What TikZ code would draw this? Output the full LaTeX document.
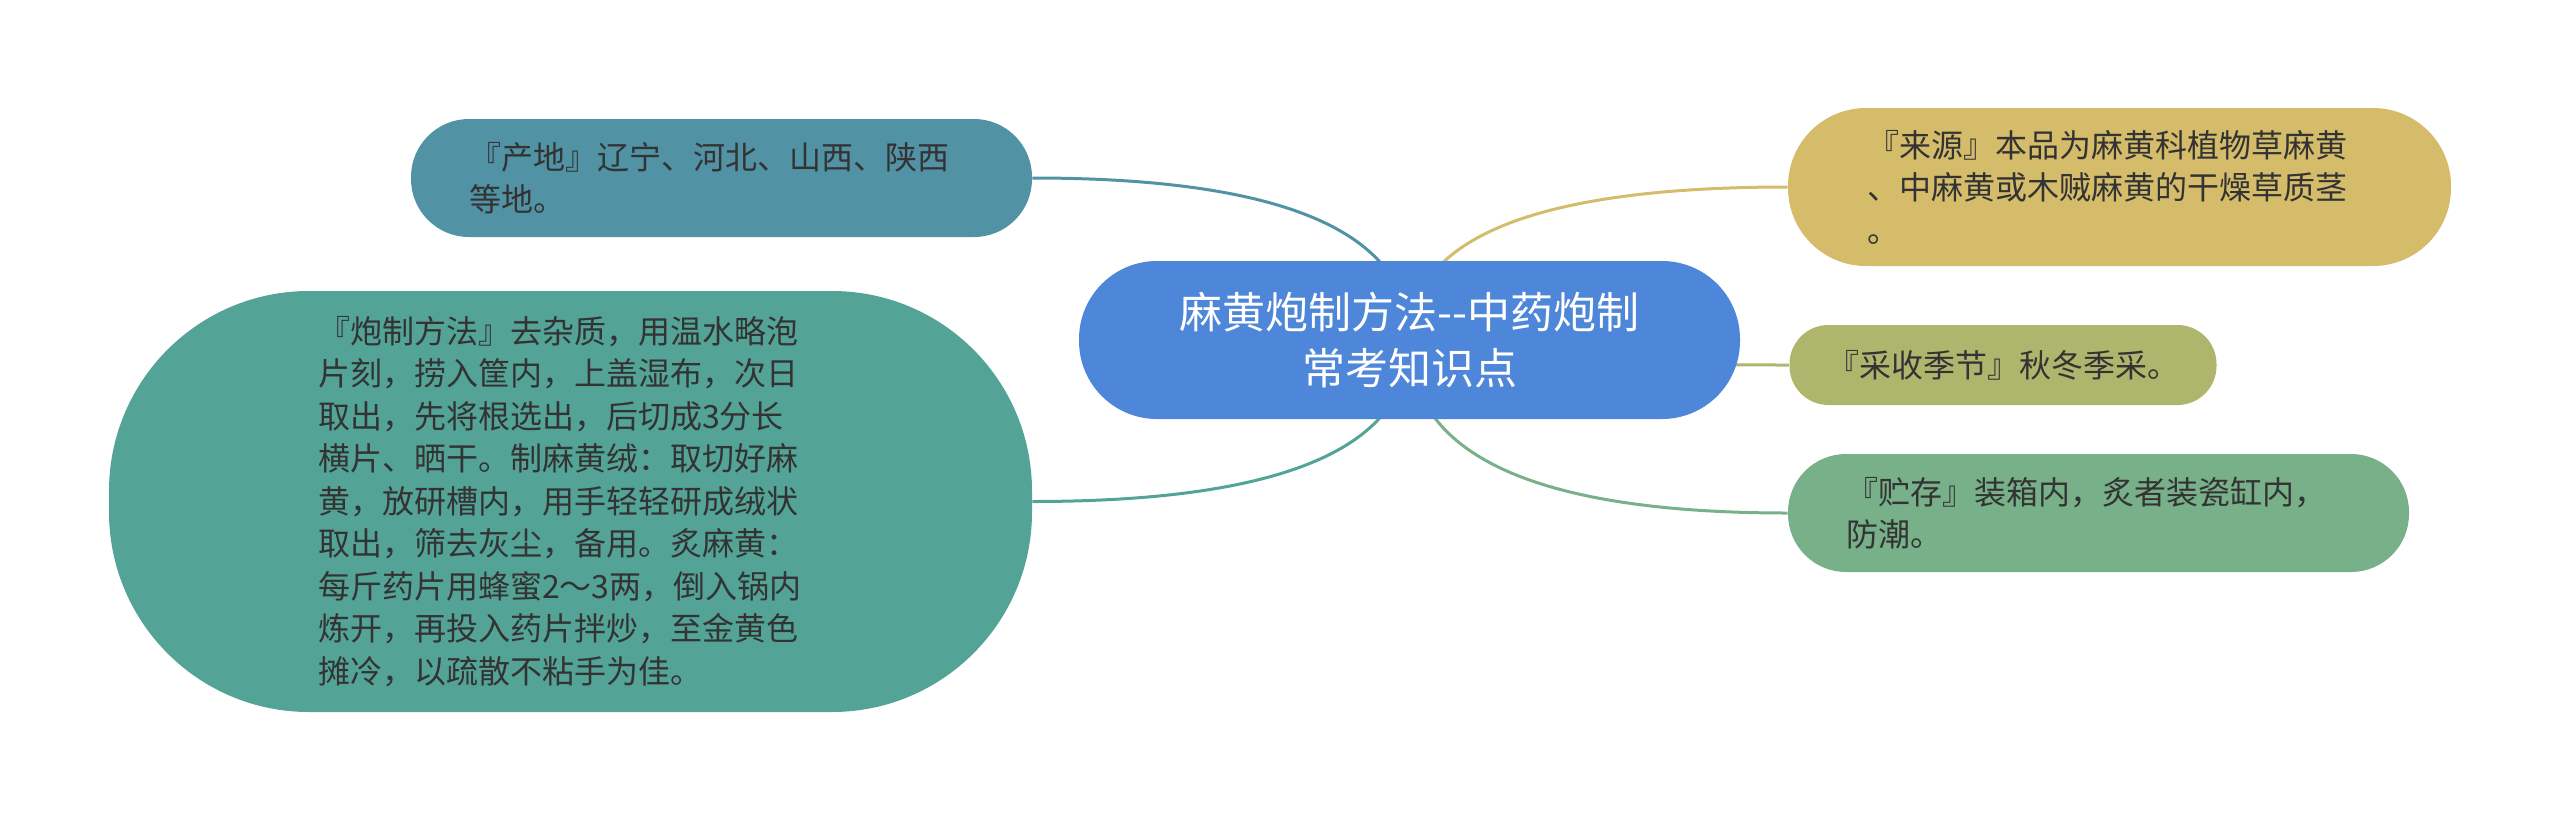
\documentclass[tikz,border=0pt]{standalone}
\usepackage{fontspec}
\setmainfont{Noto Sans CJK SC}
\usepackage{tikz}
\usetikzlibrary{backgrounds,calc}
\definecolor{rootblue}{HTML}{4E86DA}
\definecolor{chandic}{HTML}{5192A4}
\definecolor{paozhic}{HTML}{53A397}
\definecolor{laiyuanc}{HTML}{D4BC6B}
\definecolor{caishouc}{HTML}{ADB66C}
\definecolor{zhucunc}{HTML}{78B08A}
\definecolor{txtgray}{HTML}{333333}

\begin{document}
\begin{tikzpicture}[x=0.5pt,y=-0.5pt,
   topic/.style={fill=rootblue, text=white, font=\fontsize{21.5pt}{28pt}\selectfont, align=center,
                 minimum width=330.5pt, minimum height=79pt, rounded corners=39pt, inner sep=0pt},
   branch/.style={text=txtgray, font=\fontsize{16pt}{21.25pt}\selectfont, align=left,
                  text width=252.5pt, inner ysep=0pt, rounded corners=#1},
   link/.style={line width=1.5pt}]
   \useasboundingbox (0,0) rectangle (2560,820);

   \draw (1409.5,340) node[topic] (root) {麻黄炮制方法-{}-中药炮制\\常考知识点};
   \draw (721.5,178) node[branch=29pt, fill=chandic, minimum width=310.5pt, minimum height=59pt] (chandi)
        {『产地』辽宁、河北、山西、陕西\\等地。};
   \draw (570.5,501.5) node[branch=100pt, fill=paozhic, minimum width=461.5pt, minimum height=210.5pt] (paozhi)
        {『炮制方法』去杂质，用温水略泡\\片刻，捞入筐内，上盖湿布，次日\\取出，先将根选出，后切成3分长\\横片、晒干。制麻黄绒：取切好麻\\黄，放研槽内，用手轻轻研成绒状\\取出，筛去灰尘，备用。炙麻黄：\\每斤药片用蜂蜜2～3两，倒入锅内\\炼开，再投入药片拌炒，至金黄色\\摊冷，以疏散不粘手为佳。};
   \draw (2119.5,187) node[branch=39pt, fill=laiyuanc, minimum width=331.5pt, minimum height=79pt] (laiyuan)
        {『来源』本品为麻黄科植物草麻黄\\、中麻黄或木贼麻黄的干燥草质茎\\。};
   \draw (2003,365) node[fill=caishouc, text=txtgray, font=\fontsize{16pt}{21.25pt}\selectfont,
        inner xsep=18.75pt, inner ysep=0pt, minimum height=40pt, rounded corners=19.5pt] (caishou)
        {『采收季节』秋冬季采。};
   \draw (2098.5,513) node[branch=29pt, fill=zhucunc, minimum width=310.5pt, minimum height=59pt] (zhucun)
        {『贮存』装箱内，炙者装瓷缸内，\\防潮。};

   % curves start at the root centre, hidden under it
   \begin{scope}[on background layer]
     \draw[link, chandic] (root.center) .. controls ($(root.center)!2/3!(root.center |- chandi.east)$)
        and ($(chandi.east)!2/3!(root.center |- chandi.east)$) .. (chandi.east);
     \draw[link, paozhic] (root.center) .. controls ($(root.center)!2/3!(root.center |- paozhi.east)$)
        and ($(paozhi.east)!2/3!(root.center |- paozhi.east)$) .. (paozhi.east);
     \draw[link, laiyuanc] (root.center) .. controls ($(root.center)!2/3!(root.center |- laiyuan.west)$)
        and ($(laiyuan.west)!2/3!(root.center |- laiyuan.west)$) .. (laiyuan.west);
     \draw[link, caishouc] (root.center) .. controls ($(root.center)!2/3!(root.center |- caishou.west)$)
        and ($(caishou.west)!2/3!(root.center |- caishou.west)$) .. (caishou.west);
     \draw[link, zhucunc] (root.center) .. controls ($(root.center)!2/3!(root.center |- zhucun.west)$)
        and ($(zhucun.west)!2/3!(root.center |- zhucun.west)$) .. (zhucun.west);
   \end{scope}
\end{tikzpicture}
\end{document}
